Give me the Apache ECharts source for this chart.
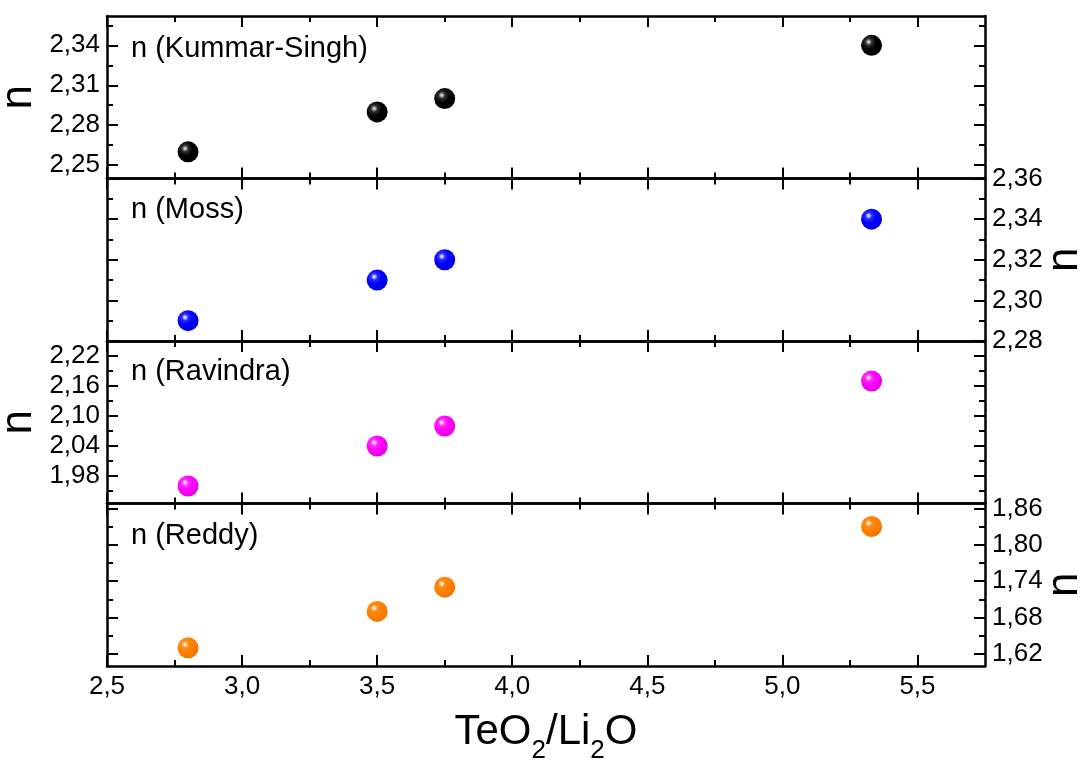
<!DOCTYPE html>
<html>
<head>
<meta charset="utf-8">
<script src="https://cdn.jsdelivr.net/npm/echarts@6/dist/echarts.min.js"></script>
<style>html,body{margin:0;padding:0;background:#fff;}#chart{width:1083px;height:765px;}</style>
</head>
<body>
<div id="chart"></div>
<script>
// ---- data ----
const xValues = [2.8, 3.5, 3.75, 5.33];
const nKummarSingh = [2.26, 2.29, 2.30, 2.34];
const nMoss = [2.29, 2.31, 2.32, 2.34];
const nRavindra = [1.96, 2.04, 2.08, 2.17];
const nReddy = [1.63, 1.69, 1.73, 1.83];
const panelNames = ['n (Kummar-Singh)', 'n (Moss)', 'n (Ravindra)', 'n (Reddy)'];

const xMajorTicks = [2.5, 3.0, 3.5, 4.0, 4.5, 5.0, 5.5];
const xMinorTicks = [2.75, 3.25, 3.75, 4.25, 4.75, 5.25];
const yMajorKummar = [2.25, 2.28, 2.31, 2.34];
const yMinorKummar = [2.265, 2.295, 2.325, 2.355];
const yMajorMoss = [2.28, 2.30, 2.32, 2.34, 2.36];
const yMinorMoss = [2.29, 2.31, 2.33, 2.35];
const yMajorRavindra = [1.98, 2.04, 2.10, 2.16, 2.22];
const yMinorRavindra = [1.95, 2.01, 2.07, 2.13, 2.19, 2.25];
const yMajorReddy = [1.62, 1.68, 1.74, 1.80, 1.86];
const yMinorReddy = [1.65, 1.71, 1.77, 1.83];
const yRanges = [[2.24, 2.362], [2.28, 2.36], [1.925, 2.25], [1.60, 1.868]];

// ---- layout / style ----
const FONT = 'Liberation Sans, Arial, sans-serif';
const panelTops = [16, 178.5, 341, 503.5];
const panelH = 162.5;
const labelSide = ['left', 'right', 'left', 'right'];
const seriesValues = [nKummarSingh, nMoss, nRavindra, nReddy];
const yMajors = [yMajorKummar, yMajorMoss, yMajorRavindra, yMajorReddy];
const yMinors = [yMinorKummar, yMinorMoss, yMinorRavindra, yMinorReddy];
const ballColors = [
  {base: '#000000', light: '#b0b0b0', mid: '#303030', dark: '#000000'},
  {base: '#0000ff', light: '#b8c0ff', mid: '#2a2aff', dark: '#0000d8'},
  {base: '#ff00ff', light: '#ffc8ff', mid: '#ff2aff', dark: '#e000e0'},
  {base: '#ff8000', light: '#ffe0c0', mid: '#ff8c1a', dark: '#f07400'}
];
const AX = '#000';
const LW = 2.5;

function ball(c) {
  return {type: 'radial', x: 0.36, y: 0.34, r: 0.72, colorStops: [
    {offset: 0, color: '#ffffff'}, {offset: 0.08, color: c.light},
    {offset: 0.22, color: c.mid}, {offset: 0.5, color: c.base}, {offset: 1, color: c.dark}]};
}

const grids = [], xAxes = [], yAxes = [], series = [];
for (let p = 0; p < 4; p++) {
  grids.push({left: 107, right: 98, top: panelTops[p], height: panelH, containLabel: false, outerBoundsMode: 'none'});
  const isBottom = p === 3;
  const xBase = {gridIndex: p, type: 'value', min: 2.5, max: 5.75, splitLine: {show: false}};
  const xMain = xAxes.length;
  ['bottom', 'top'].forEach(pos => {
    xAxes.push(Object.assign({}, xBase, {
      position: pos,
      axisLine: {show: true, onZero: false, lineStyle: {color: AX, width: LW}},
      axisTick: {show: true, inside: true, length: 11, customValues: xMajorTicks, lineStyle: {color: AX, width: 2}},
      axisLabel: {show: isBottom && pos === 'bottom', customValues: xMajorTicks, margin: 8,
        color: '#000', fontFamily: FONT, fontSize: 26,
        formatter: v => v.toFixed(1).replace('.', ',')},
      name: (isBottom && pos === 'bottom') ? '{a|TeO}{s|2}{a|/Li}{s|2}{a|O}' : '',
      nameLocation: 'middle', nameGap: 42,
      nameTextStyle: {color: '#000', fontFamily: FONT, rich: {
        a: {fontSize: 42, lineHeight: 42, fontFamily: FONT, color: '#000'},
        s: {fontSize: 26, lineHeight: 26, padding: [37, 0, 0, 0], fontFamily: FONT, color: '#000'}
      }}
    }));
    xAxes.push(Object.assign({}, xBase, {
      position: pos,
      axisLine: {show: false, onZero: false},
      axisTick: {show: true, inside: true, length: 6, customValues: xMinorTicks, lineStyle: {color: AX, width: 2}},
      axisLabel: {show: false}
    }));
  });
  const yBase = {gridIndex: p, type: 'value', min: yRanges[p][0], max: yRanges[p][1], splitLine: {show: false}};
  const yMain = yAxes.length;
  ['left', 'right'].forEach(pos => {
    const showLab = labelSide[p] === pos;
    yAxes.push(Object.assign({}, yBase, {
      position: pos,
      axisLine: {show: true, onZero: false, lineStyle: {color: AX, width: LW}},
      axisTick: {show: true, inside: true, length: 11, customValues: yMajors[p], lineStyle: {color: AX, width: 2}},
      axisLabel: {show: showLab, customValues: yMajors[p], margin: 7,
        color: '#000', fontFamily: FONT, fontSize: 26,
        formatter: v => v.toFixed(2).replace('.', ',')},
      name: showLab ? 'n' : '',
      nameLocation: 'middle', nameRotate: 90, nameGap: pos === 'left' ? 66 : 58,
      nameMoveOverlap: false,
      nameTextStyle: {color: '#000', fontFamily: FONT, fontSize: 44}
    }));
    yAxes.push(Object.assign({}, yBase, {
      position: pos,
      axisLine: {show: false, onZero: false},
      axisTick: {show: true, inside: true, length: 6, customValues: yMinors[p], lineStyle: {color: AX, width: 2}},
      axisLabel: {show: false}
    }));
  });
  series.push({
    type: 'scatter', xAxisIndex: xMain, yAxisIndex: yMain,
    symbol: 'circle', symbolSize: 21, z: 5,
    itemStyle: {color: ball(ballColors[p]), borderWidth: 0, opacity: 1},
    data: xValues.map((x, i) => [x, seriesValues[p][i]])
  });
}

const labelY = [50, 211, 373, 537];
const graphics = panelNames.map((t, i) => ({
  type: 'text', left: 131, top: labelY[i] - 16,
  style: {text: t, fontFamily: FONT, fontSize: 29, fill: '#000'}
}));

const chart = echarts.init(document.getElementById('chart'), null, {renderer: 'canvas'});
chart.setOption({
  animation: false,
  backgroundColor: '#fff',
  grid: grids, xAxis: xAxes, yAxis: yAxes, series: series,
  graphic: graphics
});
</script>
</body>
</html>
